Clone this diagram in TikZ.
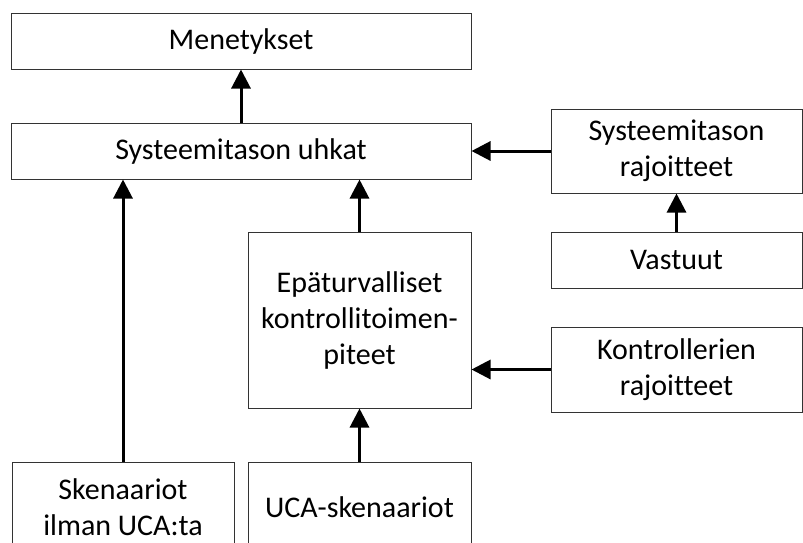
\documentclass[tikz,border=0pt]{standalone}
\usepackage{fontspec}
\setmainfont[Ligatures=NoCommon]{Carlito}
\usetikzlibrary{arrows.meta}

\begin{document}
\begin{tikzpicture}[
    x=1pt, y=-1pt,
    box/.style={draw=black!80, line width=1pt, align=center, inner sep=0pt,
                font=\fontsize{30}{36}\selectfont},
    arr/.style={-{Triangle[length=19pt,width=19pt]}, line width=3pt}
  ]
  \useasboundingbox (0,0) rectangle (803,542);
  \clip (0,0) rectangle (803,542);

  % Top row
  \node[box, minimum width=460pt, minimum height=56pt] (men) at (241,41) {Menetykset};
  \node[box, minimum width=460pt, minimum height=56pt] (uhk) at (241,151) {Systeemitason uhkat};

  % Middle column
  \node[box, minimum width=223pt, minimum height=176pt] (epa) at (359.5,320)
    {Epäturvalliset\\kontrollitoimen-\\piteet};

  % Right column
  \node[box, minimum width=251pt, minimum height=84pt] (sysraj) at (676.5,151)
    {Systeemitason\\rajoitteet};
  \node[box, minimum width=251pt, minimum height=56pt] (vast) at (676.5,260) {Vastuut};
  \node[box, minimum width=251pt, minimum height=85pt] (kontr) at (676.5,369.5)
    {Kontrollerien\\rajoitteet};

  % Bottom row
  \node[box, minimum width=222pt, minimum height=90pt] (sken) at (123,507)
    {Skenaariot\\ilman UCA:ta};
  \node[box, minimum width=223pt, minimum height=90pt] (uca) at (359.5,507) {UCA-skenaariot};

  \draw[arr] (uhk) -- (men);
  \draw[arr] (sysraj) -- (uhk);
  \draw[arr] (vast) -- (sysraj);
  \draw[arr] (kontr.west) -- (kontr.west -| epa.east);
  \draw[arr] (epa.north) -- (epa.north |- uhk.south);
  \draw[arr] (uca) -- (epa);
  \draw[arr] (sken.north) -- (sken.north |- uhk.south);
\end{tikzpicture}
\end{document}
